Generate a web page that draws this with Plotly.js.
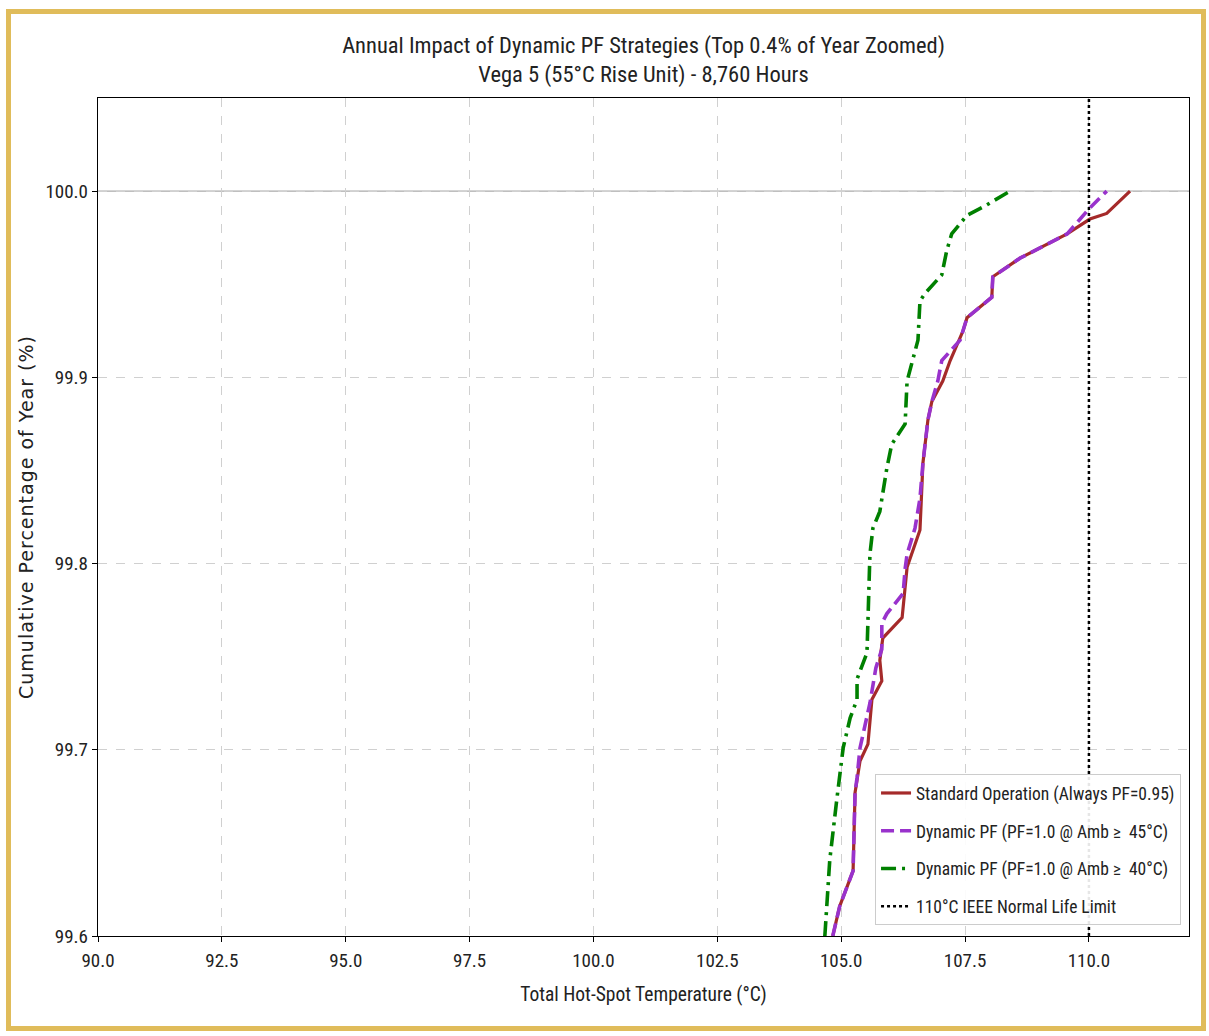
<!DOCTYPE html>
<html>
<head>
<meta charset="utf-8">
<script src="https://cdn.plot.ly/plotly-3.0.1.min.js"></script>
<style>
  html, body { margin: 0; padding: 0; background: #ffffff; }
  #wrap { position: relative; width: 1209px; height: 1036px; }
  #chart { position: absolute; left: 0; top: 0; width: 1209px; height: 1036px; }
  #frame { position: absolute; left: 6px; top: 9px; width: 1190px; height: 1012px;
           border: 5px solid #E0BC5A; pointer-events: none; }
  #chart .ytitle { letter-spacing: 1px; }
</style>
</head>
<body>
<div id="wrap">
  <div id="chart"></div>
  <div id="frame"></div>
</div>
<script>
// ---- Data ----
const stdTemp = [104.83, 104.97, 105.24, 105.28, 105.38, 105.54, 105.62, 105.82, 105.78, 105.84,
                 106.23, 106.33, 106.59, 106.65, 106.75, 106.83, 107.05, 107.20, 107.46, 107.54,
                 108.04, 108.06, 108.61, 109.56, 110.02, 110.36, 110.83];
const stdPct  = [99.600, 99.616, 99.635, 99.677, 99.694, 99.703, 99.727, 99.737, 99.748, 99.760,
                 99.771, 99.798, 99.818, 99.854, 99.877, 99.887, 99.898, 99.909, 99.925, 99.932,
                 99.943, 99.954, 99.964, 99.977, 99.985, 99.988, 100.000];

const dyn45Temp = [104.83, 104.97, 105.24, 105.28, 105.32, 105.38, 105.58, 105.70, 105.82, 105.82,
                   105.92, 106.25, 106.29, 106.33, 106.49, 106.59, 106.65, 106.75, 106.83, 106.95,
                   107.03, 107.40, 107.54, 108.04, 108.06, 108.61, 109.56, 109.78, 110.02, 110.36];
const dyn45Pct  = [99.600, 99.616, 99.635, 99.677, 99.685, 99.701, 99.725, 99.744, 99.754, 99.768,
                   99.773, 99.784, 99.797, 99.805, 99.819, 99.835, 99.854, 99.877, 99.887, 99.898,
                   99.909, 99.920, 99.932, 99.943, 99.954, 99.964, 99.977, 99.984, 99.991, 100.000];

const dyn40Temp = [104.67, 104.77, 104.91, 105.04, 105.18, 105.32, 105.32, 105.42, 105.52, 105.54,
                   105.58, 105.64, 105.78, 105.92, 106.02, 106.29, 106.33, 106.55, 106.59, 106.69,
                   107.03, 107.13, 107.23, 107.54, 107.90, 108.41];
const dyn40Pct  = [99.600, 99.641, 99.673, 99.701, 99.717, 99.727, 99.738, 99.745, 99.752, 99.769,
                   99.805, 99.819, 99.828, 99.851, 99.864, 99.875, 99.898, 99.920, 99.941, 99.945,
                   99.955, 99.968, 99.977, 99.987, 99.992, 100.000];

const limitTemp = 110;          // IEEE normal life limit
const fullYearPct = 100;        // reference line
const xRange = [90, 112.02];
const yRange = [99.6, 100.05];
const xTicks = [90, 92.5, 95, 97.5, 100, 102.5, 105, 107.5, 110];
const yTicks = [99.6, 99.7, 99.8, 99.9, 100.0];

const seriesNames = [
  'Standard Operation (Always PF=0.95)',
  'Dynamic PF (PF=1.0 @ Amb \u2265  45\u00B0C)',
  'Dynamic PF (PF=1.0 @ Amb \u2265  40\u00B0C)',
  '110\u00B0C IEEE Normal Life Limit'
];

const NARROW = '"Roboto Condensed", "Liberation Sans Narrow", Roboto, sans-serif';
const WIDE = '"DejaVu Sans", Verdana, sans-serif';

const traces = [
  { x: stdTemp, y: stdPct, mode: 'lines', name: seriesNames[0], legendgroup: 'a',
    line: { color: '#A52A2A', width: 3.2 } },
  { x: dyn45Temp, y: dyn45Pct, mode: 'lines', name: seriesNames[1], legendgroup: 'b',
    line: { color: '#9932CC', width: 3.6, dash: '13px,6px' } },
  { x: dyn40Temp, y: dyn40Pct, mode: 'lines', name: seriesNames[2], legendgroup: 'c',
    line: { color: '#008000', width: 3.6, dash: '15px,6px,3px,6px' } },
  { x: [limitTemp, limitTemp], y: yRange, mode: 'lines', name: seriesNames[3], legendgroup: 'd',
    line: { color: '#000000', width: 2.5, dash: 'dot' } }
];

const layout = {
  width: 1209, height: 1036,
  margin: { l: 98, r: 20, t: 98, b: 100 },
  paper_bgcolor: '#ffffff', plot_bgcolor: '#ffffff',
  font: { family: NARROW, color: '#222222', size: 18 },
  title: {
    text: 'Annual Impact of Dynamic PF Strategies (Top 0.4% of Year Zoomed)<br>Vega 5 (55\u00B0C Rise Unit) - 8,760 Hours',
    x: 0.5, xref: 'paper', xanchor: 'center',
    y: 1, yref: 'paper', yanchor: 'bottom', pad: { b: 45 },
    font: { family: NARROW, size: 22.5, color: '#222222' }
  },
  xaxis: {
    range: xRange, tickvals: xTicks, tickformat: '.1f',
    ticks: 'outside', ticklen: 5, tickcolor: '#000', tickwidth: 1,
    showline: true, linecolor: '#000', linewidth: 1.2, mirror: true,
    showgrid: true, gridcolor: '#d0d0d0', griddash: 'dash', gridwidth: 1,
    zeroline: false, ticklabelstandoff: 2,
    tickfont: { family: NARROW, size: 19, color: '#222' },
    title: { text: 'Total Hot-Spot Temperature (\u00B0C)', standoff: 16,
             font: { family: NARROW, size: 19.5, color: '#222' } }
  },
  yaxis: {
    range: yRange, tickvals: yTicks, tickformat: '.1f',
    ticks: 'outside', ticklen: 5, tickcolor: '#000', tickwidth: 1,
    showline: true, linecolor: '#000', linewidth: 1.2, mirror: true,
    showgrid: true, gridcolor: '#d0d0d0', griddash: 'dash', gridwidth: 1,
    zeroline: false,
    tickfont: { family: NARROW, size: 19, color: '#222' },
    title: { text: 'Cumulative Percentage of Year (%)', standoff: 6,
             font: { family: WIDE, size: 19, color: '#222' } }
  },
  shapes: [
    { type: 'line', xref: 'paper', x0: 0, x1: 1, yref: 'y', y0: fullYearPct, y1: fullYearPct,
      line: { color: '#aaaaaa', width: 1.3 }, layer: 'below' }
  ],
  legend: {
    x: 0.9927, xanchor: 'right', y: 0.013, yanchor: 'bottom',
    bgcolor: 'rgba(255,255,255,0.9)', bordercolor: '#cccccc', borderwidth: 1,
    font: { family: NARROW, size: 17.5, color: '#222' },
    traceorder: 'grouped', tracegroupgap: 12
  },
  showlegend: true
};

Plotly.newPlot('chart', traces, layout, { displayModeBar: false, staticPlot: true });
</script>
</body>
</html>
